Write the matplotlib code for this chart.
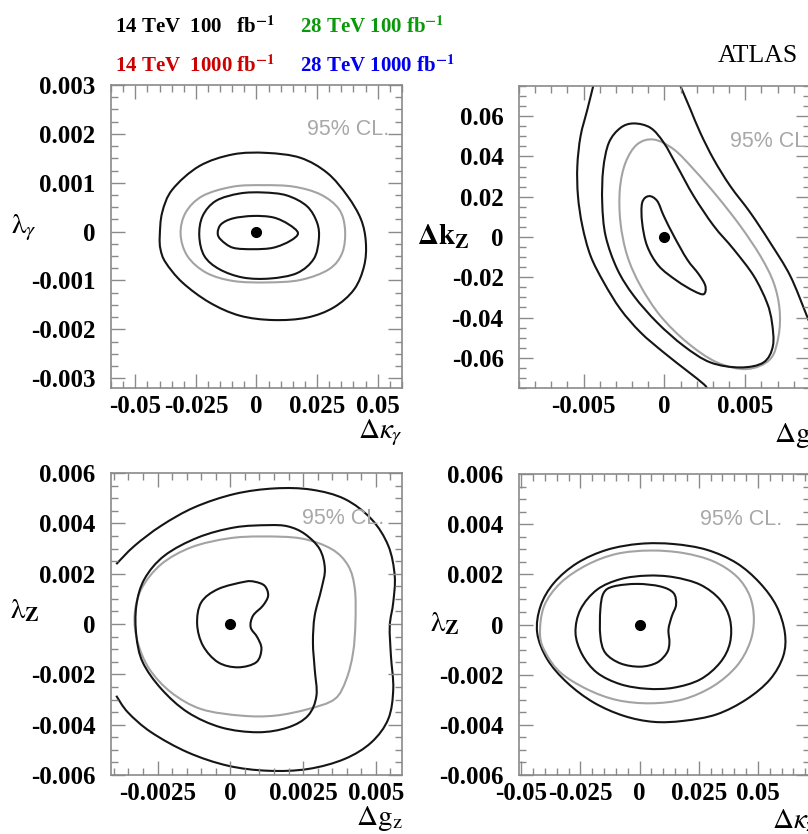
import numpy as np
import matplotlib.pyplot as plt
from matplotlib.path import Path
from matplotlib.patches import PathPatch
from matplotlib.ticker import MultipleLocator

plt.rcParams['mathtext.fontset'] = 'stix'

# --- dkappa_gamma vs lambda_gamma ---
KG_OUTER_X = [-0.0399, -0.0389, -0.0347, -0.0236, -0.0097, 0.0042, 0.0181, 0.0292, 0.0375, 0.0431, 0.0451,
              0.0444, 0.0403, 0.0319, 0.0208, 0.0069, -0.0069, -0.0194, -0.0306, -0.0375, -0.0396]
KG_OUTER_Y = [-0.00009, 0.00039, 0.00086, 0.00134, 0.00158, 0.00161, 0.00151, 0.00120, 0.00073, 0.00025, -0.00022,
              -0.00070, -0.00118, -0.00155, -0.00176, -0.00181, -0.00172, -0.00145, -0.00104, -0.00063, -0.00036]
KG_GRAY_X = [-0.0313, -0.0292, -0.0222, -0.0097, 0.0028, 0.0153, 0.0264, 0.0340, 0.0365, 0.0354, 0.0299,
             0.0181, 0.0042, -0.0097, -0.0208, -0.0285]
KG_GRAY_Y = [-0.00005, 0.00039, 0.00073, 0.00092, 0.00095, 0.00092, 0.00076, 0.00046, 0.00005, -0.00043, -0.00077,
             -0.00099, -0.00104, -0.00101, -0.00084, -0.00050]
KG_MID_X = [-0.0236, -0.0222, -0.0167, -0.0069, 0.0028, 0.0125, 0.0208, 0.0250, 0.0257, 0.0236, 0.0167,
            0.0056, -0.0056, -0.0153, -0.0215]
KG_MID_Y = [-0.00009, 0.00032, 0.00063, 0.00078, 0.00080, 0.00074, 0.00052, 0.00018, -0.00016, -0.00056, -0.00085,
            -0.00096, -0.00094, -0.00077, -0.00050]
KG_IN_X = [-0.0160, -0.0146, -0.0097, -0.0014, 0.0069, 0.0132, 0.0171, 0.0139, 0.0069, -0.0014, -0.0097, -0.0146]
KG_IN_Y = [-0.00003, 0.00015, 0.00027, 0.00032, 0.00029, 0.00015, -0.00003, -0.00019, -0.00033, -0.00036,
           -0.00033, -0.00017]

# --- dg_Z vs dkappa_Z ---
GK_LEFT_X = [-0.00436, -0.00477, -0.00519, -0.00539, -0.00535, -0.00508, -0.00457, -0.00375, -0.00272,
             -0.00148, -0.00004, 0.00140, 0.00243, 0.00270]
GK_LEFT_Y = [0.0765, 0.0633, 0.0501, 0.0352, 0.0203, 0.0055, -0.0094, -0.0226, -0.0359, -0.0474, -0.0574,
             -0.0665, -0.0731, -0.0760]
GK_RIGHT_X = [0.00095, 0.00161, 0.00222, 0.00305, 0.00407, 0.00531, 0.00654, 0.00778, 0.00881, 0.00922]
GK_RIGHT_Y = [0.0757, 0.0633, 0.0517, 0.0385, 0.0253, 0.0121, -0.0028, -0.0193, -0.0392, -0.0474]
GK_MID_X = [-0.00189, -0.00272, -0.00344, -0.00379, -0.00385, -0.00364, -0.00292, -0.00189, -0.00045, 0.00119,
            0.00284, 0.00469, 0.00613, 0.00671, 0.00665, 0.00634, 0.00552, 0.00428, 0.00305, 0.00181, 0.00078,
            -0.00004, -0.00086]
GK_MID_Y = [0.0564, 0.0542, 0.0468, 0.0336, 0.0170, 0.0005, -0.0160, -0.0293, -0.0425, -0.0541, -0.0623,
            -0.0648, -0.0623, -0.0541, -0.0425, -0.0326, -0.0193, -0.0061, 0.0055, 0.0203, 0.0352, 0.0468, 0.0542]
GK_GRAY_X = [-0.00066, -0.00169, -0.00241, -0.00276, -0.00272, -0.00230, -0.00148, -0.00025, 0.00140, 0.00325,
             0.00510, 0.00654, 0.00706, 0.00712, 0.00675, 0.00593, 0.00469, 0.00325, 0.00181, 0.00058]
GK_GRAY_Y = [0.0484, 0.0460, 0.0369, 0.0236, 0.0071, -0.0094, -0.0243, -0.0392, -0.0524, -0.0623, -0.0656,
             -0.0607, -0.0491, -0.0359, -0.0226, -0.0094, 0.0055, 0.0203, 0.0336, 0.0435]
GK_IN_X = [-0.00097, -0.00138, -0.00138, -0.00107, -0.00035, 0.00078, 0.00181, 0.00243, 0.00253, 0.00212,
           0.00140, 0.00058, -0.00004, -0.00045]
GK_IN_Y = [0.0203, 0.0170, 0.0071, -0.0045, -0.0144, -0.0218, -0.0268, -0.0284, -0.0243, -0.0185, -0.0111,
           0.0005, 0.0104, 0.0179]

# --- dg_Z vs lambda_Z ---
GL_OUTER_X = [-0.00392, -0.00329, -0.00237, -0.00123, 0.00015, 0.00153, 0.00279, 0.00393, 0.00485, 0.00543,
              0.00565, 0.00560, 0.00548, 0.00552, 0.00560, 0.00543, 0.00485, 0.00393, 0.00267, 0.00130,
              -0.00008, -0.00146, -0.00272, -0.00352, -0.00392]
GL_OUTER_Y = [0.00238, 0.00311, 0.00391, 0.00464, 0.00517, 0.00539, 0.00534, 0.00497, 0.00417, 0.00311,
              0.00192, 0.00086, -0.00007, -0.00126, -0.00258, -0.00377, -0.00470, -0.00536, -0.00576, -0.00583,
              -0.00563, -0.00510, -0.00430, -0.00351, -0.00285]
GL_MID_X = [0.00130, 0.00015, -0.00111, -0.00226, -0.00295, -0.00323, -0.00323, -0.00301, -0.00237, -0.00146,
            -0.00031, 0.00095, 0.00198, 0.00267, 0.00296, 0.00290, 0.00284, 0.00290, 0.00313, 0.00325, 0.00307,
            0.00256, 0.00198]
GL_MID_Y = [0.00393, 0.00384, 0.00344, 0.00272, 0.00179, 0.00073, -0.00046, -0.00152, -0.00258, -0.00351,
            -0.00411, -0.00430, -0.00411, -0.00364, -0.00285, -0.00179, -0.00073, 0.00033, 0.00139, 0.00219,
            0.00298, 0.00358, 0.00388]
GL_GRAY_X = [0.00107, -0.00008, -0.00134, -0.00237, -0.00306, -0.00329, -0.00318, -0.00278, -0.00203, -0.00100,
             0.00038, 0.00153, 0.00267, 0.00359, 0.00399, 0.00422, 0.00430, 0.00428, 0.00405, 0.00348, 0.00244]
GL_GRAY_Y = [0.00348, 0.00340, 0.00305, 0.00238, 0.00139, 0.00033, -0.00073, -0.00179, -0.00272, -0.00338,
             -0.00364, -0.00364, -0.00338, -0.00298, -0.00219, -0.00113, 0.00007, 0.00139, 0.00232, 0.00298,
             0.00340]
GL_IN_X = [0.00049, -0.00042, -0.00100, -0.00114, -0.00094, -0.00042, 0.00026, 0.00089, 0.00107, 0.00093,
           0.00070, 0.00078, 0.00112, 0.00130, 0.00118, 0.00084]
GL_IN_Y = [0.00168, 0.00139, 0.00086, 0.0, -0.00086, -0.00152, -0.00172, -0.00152, -0.00099, -0.00053,
           -0.00013, 0.00033, 0.00073, 0.00113, 0.00152, 0.00168]

# --- dkappa_Z vs lambda_Z ---
KL_OUTER_X = [-0.0433, -0.0419, -0.0362, -0.0264, -0.0138, 0.0003, 0.0143, 0.0284, 0.0410, 0.0508, 0.0579,
              0.0614, 0.0607, 0.0551, 0.0452, 0.0326, 0.0185, 0.0059, -0.0067, -0.0194, -0.0306, -0.0390]
KL_OUTER_Y = [-0.00033, 0.00073, 0.00166, 0.00245, 0.00298, 0.00322, 0.00321, 0.00298, 0.00245, 0.00166,
              0.00073, -0.00033, -0.00126, -0.00219, -0.00298, -0.00358, -0.00384, -0.00388, -0.00364, -0.00311,
              -0.00232, -0.00139]
KL_GRAY_X = [-0.0421, -0.0404, -0.0334, -0.0222, -0.0096, 0.0045, 0.0185, 0.0312, 0.0410, 0.0466, 0.0483,
             0.0466, 0.0410, 0.0312, 0.0185, 0.0045, -0.0096, -0.0222, -0.0334, -0.0397]
KL_GRAY_Y = [-0.00040, 0.00073, 0.00166, 0.00238, 0.00282, 0.00295, 0.00285, 0.00252, 0.00192, 0.00113,
             0.00020, -0.00073, -0.00166, -0.00245, -0.00298, -0.00314, -0.00301, -0.00258, -0.00192, -0.00113]
KL_MID_X = [-0.0271, -0.0250, -0.0180, -0.0081, 0.0031, 0.0143, 0.0256, 0.0340, 0.0382, 0.0382, 0.0340,
            0.0256, 0.0143, 0.0031, -0.0081, -0.0180, -0.0243]
KL_MID_Y = [-0.00033, 0.00060, 0.00139, 0.00181, 0.00195, 0.00189, 0.00159, 0.00099, 0.00020, -0.00073,
            -0.00152, -0.00219, -0.00252, -0.00256, -0.00238, -0.00192, -0.00119]
KL_IN_X = [-0.0152, -0.0110, -0.0011, 0.0087, 0.0143, 0.0154, 0.0136, 0.0122, 0.0126, 0.0115, 0.0073, 0.0003,
           -0.0081, -0.0145, -0.0166, -0.0166]
KL_IN_Y = [0.00126, 0.00152, 0.00162, 0.00152, 0.00126, 0.00079, 0.00033, -0.00020, -0.00073, -0.00113,
           -0.00152, -0.00168, -0.00155, -0.00113, -0.00046, 0.00060]

# tick values and labels
KG_XT = [-0.05, -0.025, 0, 0.025, 0.05]
KG_XL = ['-0.05', '-0.025', '0', '0.025', '0.05']
KG_YT = [-0.003, -0.002, -0.001, 0, 0.001, 0.002, 0.003]
KG_YL = ['-0.003', '-0.002', '-0.001', '0', '0.001', '0.002', '0.003']
GK_XT = [-0.005, 0, 0.005]
GK_XL = ['-0.005', '0', '0.005']
GK_YT = [-0.06, -0.04, -0.02, 0, 0.02, 0.04, 0.06]
GK_YL = ['-0.06', '-0.04', '-0.02', '0', '0.02', '0.04', '0.06']
GL_XT = [-0.0025, 0, 0.0025, 0.005]
GL_XL = ['-0.0025', '0', '0.0025', '0.005']
LZ_YT = [-0.006, -0.004, -0.002, 0, 0.002, 0.004, 0.006]
LZ_YL = ['-0.006', '-0.004', '-0.002', '0', '0.002', '0.004', '0.006']

BLACK = '#151515'
GRAY = '#a3a3a3'
FRAME = '#8a8a8a'


def curve(ax, xs, ys, color=BLACK, lw=1.5, closed=True):
    # catmull-rom through the points, drawn as cubic beziers
    pts = np.column_stack([xs, ys])
    if closed:
        ext = np.vstack([pts[-1], pts, pts[0], pts[1]])
    else:
        ext = np.vstack([pts[0], pts, pts[-1]])
    verts = [ext[1]]
    codes = [Path.MOVETO]
    for i in range(1, len(ext) - 2):
        p0, p1, p2, p3 = ext[i - 1], ext[i], ext[i + 1], ext[i + 2]
        verts += [p1 + (p2 - p0) / 6, p2 - (p3 - p1) / 6, p2]
        codes += [Path.CURVE4] * 3
    ax.add_patch(PathPatch(Path(verts, codes), fill=False, ec=color, lw=lw))


def setup(ax, xlim, ylim, xt, xl, yt, yl, xminor, yminor):
    ax.set_xlim(xlim)
    ax.set_ylim(ylim)
    ax.set_xticks(xt)
    ax.set_xticklabels(xl, family='Liberation Serif', weight='bold', size=18)
    ax.set_yticks(yt)
    ax.set_yticklabels(yl, family='Liberation Serif', weight='bold', size=18)
    ax.xaxis.set_minor_locator(MultipleLocator(xminor))
    ax.yaxis.set_minor_locator(MultipleLocator(yminor))
    ax.tick_params(which='both', direction='in', top=True, right=True, color=FRAME, width=1)
    ax.tick_params(which='major', length=10)
    ax.tick_params(which='minor', length=5)
    ax.tick_params(axis='x', pad=5)
    ax.tick_params(axis='y', pad=11)
    for s in ax.spines.values():
        s.set_color(FRAME)
        s.set_linewidth(1.2)
    ax.plot(0, 0, 'o', color='black', ms=7)


fig = plt.figure(figsize=(8.08, 8.34), dpi=100)

ax1 = fig.add_axes([0.1374, 0.5348, 0.3601, 0.3633])
ax2 = fig.add_axes([0.6423, 0.5348, 0.3601, 0.3621])
ax3 = fig.add_axes([0.1374, 0.0707, 0.3601, 0.3621])
ax4 = fig.add_axes([0.6423, 0.0707, 0.3601, 0.3609])

setup(ax1, (-0.06, 0.06), (-0.0032, 0.003), KG_XT, KG_XL, KG_YT, KG_YL, 0.005, 0.00025)
curve(ax1, KG_OUTER_X, KG_OUTER_Y)
curve(ax1, KG_GRAY_X, KG_GRAY_Y, GRAY)
curve(ax1, KG_MID_X, KG_MID_Y)
curve(ax1, KG_IN_X, KG_IN_Y)

setup(ax2, (-0.009, 0.009), (-0.075, 0.075), GK_XT, GK_XL, GK_YT, GK_YL, 0.001, 0.005)
curve(ax2, GK_LEFT_X, GK_LEFT_Y, closed=False)
curve(ax2, GK_RIGHT_X, GK_RIGHT_Y, closed=False)
curve(ax2, GK_GRAY_X, GK_GRAY_Y, GRAY)
curve(ax2, GK_MID_X, GK_MID_Y)
curve(ax2, GK_IN_X, GK_IN_Y)

setup(ax3, (-0.0041, 0.0059), (-0.006, 0.006), GL_XT, GL_XL, LZ_YT, LZ_YL, 0.0005, 0.0005)
curve(ax3, GL_OUTER_X, GL_OUTER_Y, closed=False)
curve(ax3, GL_GRAY_X, GL_GRAY_Y, GRAY)
curve(ax3, GL_MID_X, GL_MID_Y)
curve(ax3, GL_IN_X, GL_IN_Y)

setup(ax4, (-0.051, 0.072), (-0.006, 0.006), KG_XT, KG_XL, LZ_YT, LZ_YL, 0.005, 0.0005)
curve(ax4, KL_OUTER_X, KL_OUTER_Y)
curve(ax4, KL_GRAY_X, KL_GRAY_Y, GRAY)
curve(ax4, KL_MID_X, KL_MID_Y)
curve(ax4, KL_IN_X, KL_IN_Y)

# confidence level tags
cl = dict(family='Liberation Sans', size=15.5, color='#a8a8a8')
ax1.text(0.674, 0.835, '95% CL.', transform=ax1.transAxes, **cl)
ax2.text(0.725, 0.798, '95% CL.', transform=ax2.transAxes, **cl)
ax3.text(0.656, 0.831, '95% CL.', transform=ax3.transAxes, **cl)
ax4.text(0.622, 0.831, '95% CL.', transform=ax4.transAxes, **cl)

# axis titles
lab = dict(size=21, va='center')
fig.text(0.014, 0.727, r'$\mathrm{\lambda}_{\gamma}$', ha='left', **lab)
fig.text(0.499, 0.481, r'$\Delta\kappa_{\gamma}$', ha='right', **lab)
fig.text(0.516, 0.716, r'$\mathbf{\Delta k_{Z}}$', ha='left', **lab)
fig.text(0.958, 0.478, r'$\Delta \mathrm{g}_{\mathrm{Z}}$', ha='left', **lab)
fig.text(0.012, 0.268, r'$\mathrm{\lambda}_{\mathbf{Z}}$', ha='left', **lab)
fig.text(0.498, 0.019, r'$\Delta \mathrm{g}_{\mathrm{z}}$', ha='right', **lab)
fig.text(0.532, 0.253, r'$\mathrm{\lambda}_{\mathbf{Z}}$', ha='left', **lab)
fig.text(0.956, 0.017, r'$\Delta\kappa_{\mathrm{z}}$', ha='left', **lab)

# run scenarios
head = dict(family='Liberation Serif', weight='bold', size=15, va='baseline')
fig.text(0.1423, 0.9604, r'14 TeV  100   fb$^{\mathbf{-1}}$', color='black', **head)
fig.text(0.1423, 0.9137, r'14 TeV  1000 fb$^{\mathbf{-1}}$', color='#cc0000', **head)
fig.text(0.3713, 0.9604, r'28 TeV 100 fb$^{\mathbf{-1}}$', color='#0a990a', **head)
fig.text(0.3713, 0.9137, r'28 TeV 1000 fb$^{\mathbf{-1}}$', color='#0000ee', **head)
fig.text(0.8886, 0.9257, 'ATLAS', family='Liberation Serif', size=18.5, va='baseline')

fig.savefig('out.png', dpi=100)
